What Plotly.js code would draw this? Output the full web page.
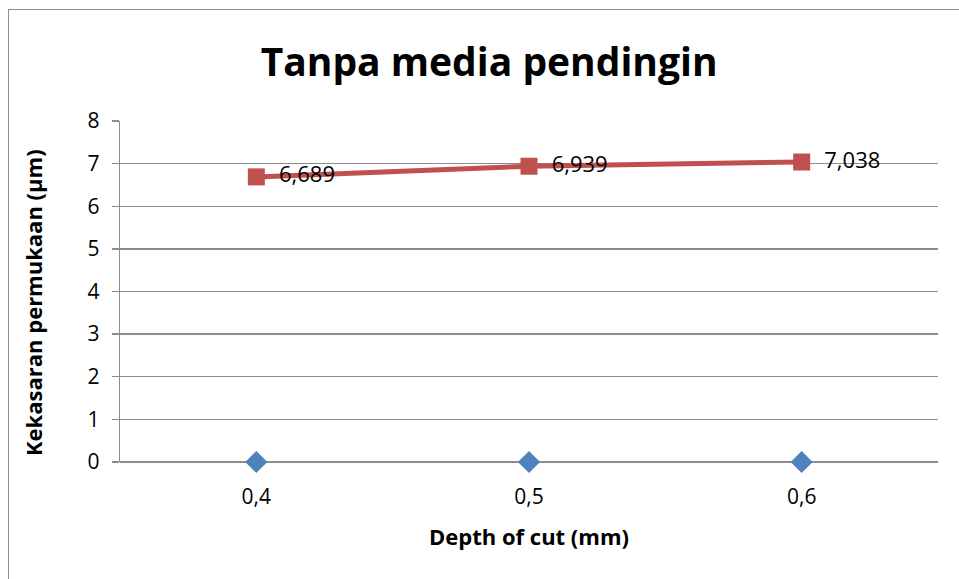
<!DOCTYPE html>
<html>
<head>
<meta charset="utf-8">
<script src="https://cdn.plot.ly/plotly-3.0.1.min.js"></script>
<style>
  html, body { margin: 0; padding: 0; background: #fff; }
  #wrap { position: relative; width: 959px; height: 579px; overflow: hidden; }
  #frame { position: absolute; left: 8px; top: 9px; width: 980px; height: 600px;
           border-left: 1.5px solid #8c8c8c; border-top: 1.5px solid #8c8c8c; pointer-events: none; }
  #chart { position: absolute; left: 0; top: 0; width: 959px; height: 579px; }
</style>
</head>
<body>
<div id="wrap">
  <div id="chart"></div>
  <div id="frame"></div>
</div>
<script>
// Depth of cut categories and measured surface roughness (µm)
const depthLabels = ["0,4", "0,5", "0,6"];
const roughness = [6.689, 6.939, 7.038];
const baseline = [0, 0, 0];
const yTicks = [0, 1, 2, 3, 4, 5, 6, 7, 8];

const fmt = v => v.toFixed(3).replace('.', ',');
const FONT = '"Open Sans", "Noto Sans", sans-serif';

const traces = [
  {
    x: depthLabels,
    y: baseline,
    type: 'scatter',
    mode: 'markers',
    marker: { symbol: 'diamond', size: 17, color: '#4F81BD' },
    cliponaxis: false,
    hoverinfo: 'x+y'
  },
  {
    x: depthLabels,
    y: roughness,
    type: 'scatter',
    mode: 'lines+markers+text',
    line: { color: '#C0504D', width: 5 },
    marker: { symbol: 'square', size: 17, color: '#C0504D' },
    // value labels sit a little to the right of each marker
    text: roughness.map(v => '\u2002' + fmt(v)),
    textposition: 'middle right',
    textfont: { family: FONT, size: 22, color: '#000' },
    cliponaxis: false
  }
];

const layout = {
  width: 959,
  height: 579,
  margin: { l: 120, r: 21, t: 121, b: 117 },
  paper_bgcolor: '#fff',
  plot_bgcolor: '#fff',
  showlegend: false,
  title: {
    text: '<b>Tanpa media pendingin</b>',
    font: { family: FONT, size: 39, color: '#000' },
    xref: 'container', x: 0.51, xanchor: 'center',
    yref: 'container', y: 0.892, yanchor: 'middle'
  },
  xaxis: {
    type: 'category',
    range: [-0.5, 2.5],
    showgrid: false,
    zeroline: false,
    showline: false,
    ticks: '',
    tickfont: { family: FONT, size: 21, color: '#000' },
    ticklabelstandoff: 20,
    title: { text: '<b>Depth of cut (mm)</b>', font: { family: FONT, size: 22, color: '#000' }, standoff: 20 }
  },
  yaxis: {
    range: [0, 8],
    tickvals: yTicks,
    ticktext: yTicks.map(String),
    showgrid: true,
    gridcolor: '#8c8c8c',
    gridwidth: 1.3,
    zeroline: true,
    zerolinecolor: '#8c8c8c',
    zerolinewidth: 1.3,
    showline: true,
    linecolor: '#8c8c8c',
    linewidth: 1.3,
    ticks: 'outside',
    ticklen: 7,
    tickcolor: '#8c8c8c',
    tickwidth: 1.3,
    tickfont: { family: FONT, size: 21, color: '#000' },
    ticklabelstandoff: 8
  },
  annotations: [
    {
      // vertical axis title, placed close to the chart frame
      text: '<b>Kekasaran permukaan (µm)</b>',
      font: { family: FONT, size: 22, color: '#000' },
      textangle: -90,
      xref: 'paper', yref: 'paper',
      x: (33 - 120) / 818, y: (462 - 303) / 341,
      xanchor: 'center', yanchor: 'middle',
      showarrow: false
    }
  ]
};

Plotly.newPlot('chart', traces, layout, { displayModeBar: false, staticPlot: true });
</script>
</body>
</html>
